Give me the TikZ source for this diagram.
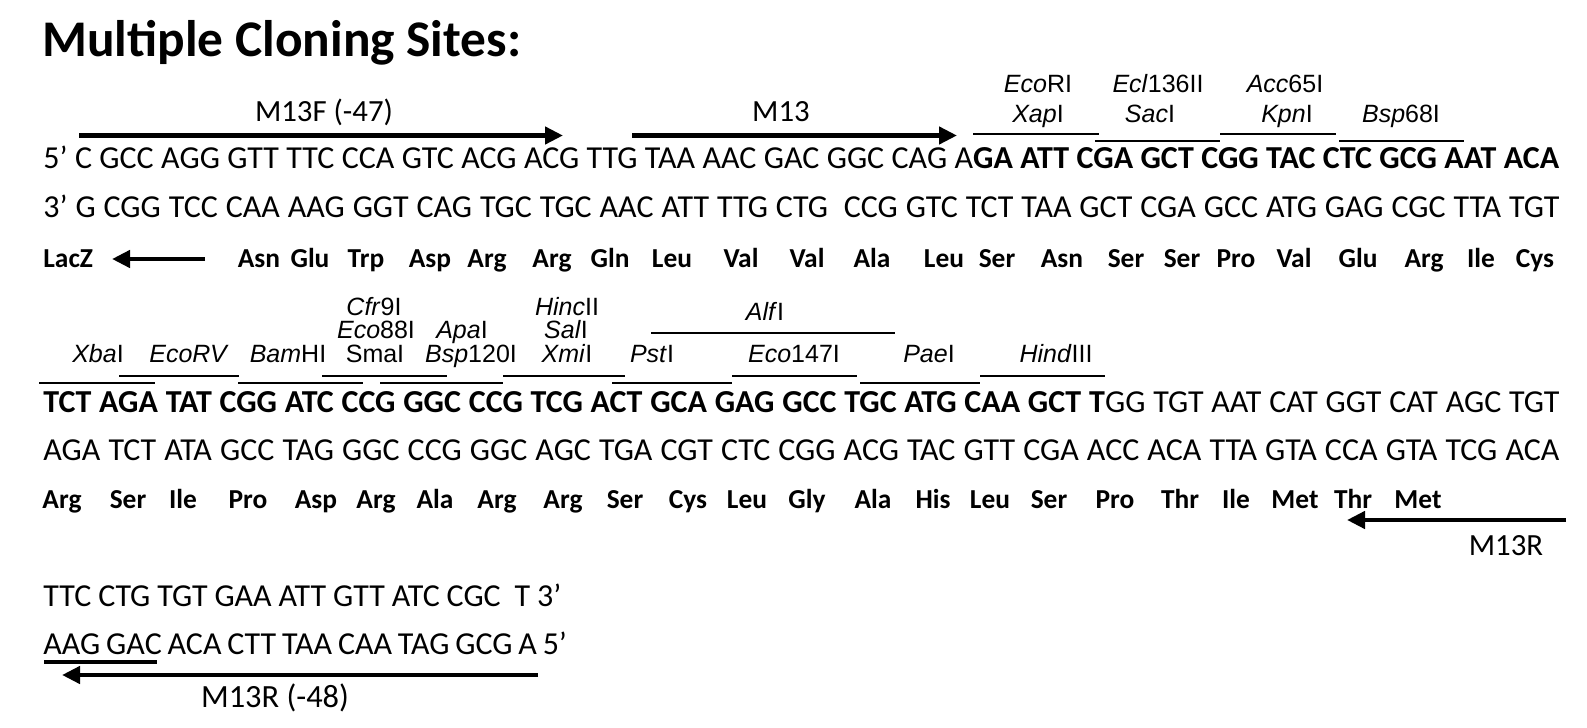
\documentclass[tikz,border=0pt]{standalone}
\usepackage{fontspec}
\setmainfont{Carlito}
\newfontfamily\arialf{Liberation Sans}
\usetikzlibrary{arrows.meta}
\begin{document}
\begin{tikzpicture}[x=0.5pt,y=-0.5pt,
  seq/.style={inner sep=0pt, anchor=base west, font=\fontsize{16}{19}\selectfont},
  aa/.style={inner sep=0pt, anchor=base, font=\fontsize{13.7}{16}\selectfont\bfseries},
  enz/.style={inner sep=0pt, anchor=base, font=\arialf\fontsize{12.5}{14}\selectfont},
  prim/.style={inner sep=0pt, anchor=base, font=\fontsize{15.4}{18}\selectfont},
  site/.style={line width=0.8pt},
  primer/.style={line width=2.2pt, -{Triangle[length=9pt,width=8.5pt]}},
]
\useasboundingbox (0,0) rectangle (1587,728);
\node[anchor=base west, inner sep=0pt, font=\fontsize{25.7}{30}\selectfont\bfseries] (title) at (42,56) {Multiple Cloning Sites:};

% ---- block 1 ----
\node[prim] (m13f) at (324,121) {M13F (-47)};
\node[prim] (m13) at (781,121) {M13};
\draw[primer] (79,135.5) -- (563,135.5);
\draw[primer] (632,135.5) -- (957,135.5);

\node[enz] (ecori) at (1038,92) {\textit{Eco}RI};
\node[enz] (xapi) at (1038,122) {\textit{Xap}I};
\node[enz] (ecl) at (1158,92) {\textit{Ecl}136II};
\node[enz] (saci) at (1150,122) {\textit{Sac}I};
\node[enz] (acc) at (1285,92) {\textit{Acc}65I};
\node[enz] (kpni) at (1287,122) {\textit{Kpn}I};
\node[enz] (bsp68) at (1401,122) {\textit{Bsp}68I};
\draw[site] (973,134) -- (1099,134);
\draw[site] (1095,141) -- (1220,141);
\draw[site] (1220,134) -- (1336,134);
\draw[site] (1339,141) -- (1464,141);

\node[seq] (r1) at (43,168) {\makebox[758pt][s]{5’ C GCC AGG GTT TTC CCA GTC ACG ACG TTG TAA AAC GAC GGC CAG A\textbf{GA ATT CGA GCT CGG TAC CTC GCG AAT ACA}}};
\node[seq] (r2) at (43,217) {\makebox[758pt][s]{3’ G CGG TCC CAA AAG GGT CAG TGC TGC AAC ATT TTG CTG\ \ CCG GTC TCT TAA GCT CGA GCC ATG GAG CGC TTA TGT}};

\node[aa, anchor=base west] (lacz) at (43,267) {LacZ};
\coordinate (laczend) at (112,259);
\draw[primer] (205,259) -- (laczend);
\foreach \n/\x in {Asn/259, Glu/310, Trp/366, Asp/430, Arg/487, Arg/552, Gln/610, Leu/672, Val/741, Val/807, Ala/872, Leu/944, Ser/997, Asn/1062, Ser/1126, Ser/1182, Pro/1236, Val/1294, Glu/1358, Arg/1424, Ile/1481, Cys/1535}
  \node[aa] (aa1-\x) at (\x,267) {\n};

% ---- block 2 ----
\node[enz] (xbai) at (98,362) {\textit{Xba}I};
\node[enz] (ecorv) at (189,362) {\textit{EcoRV}};
\node[enz] (bamhi) at (288,362) {\textit{Bam}HI};
\node[enz] (cfr) at (374,315) {\textit{Cfr}9I};
\node[enz] (eco88) at (376,338) {\textit{Eco}88I};
\node[enz] (smai) at (375,362) {SmaI};
\node[enz] (apai) at (462,338) {\textit{Apa}I};
\node[enz] (bsp120) at (471,362) {\textit{Bsp}120I};
\node[enz] (hincii) at (567,315) {\textit{Hinc}II};
\node[enz] (sali) at (566,338) {\textit{Sal}I};
\node[enz] (xmii) at (567,362) {\textit{Xmi}I};
\node[enz] (psti) at (652,362) {\textit{Pst}I};
\node[enz] (alfi) at (765,320) {\textit{Alf}I};
\node[enz] (eco147) at (794,362) {\textit{Eco}147I};
\node[enz] (paei) at (929,362) {\textit{Pae}I};
\node[enz] (hind) at (1056,362) {\textit{Hind}III};
\draw[site] (651,333) -- (895,333);
\draw[site] (39,383) -- (155,383);
\draw[site] (119,376) -- (239,376);
\draw[site] (238,383) -- (363,383);
\draw[site] (322,376) -- (447,376);
\draw[site] (380,383) -- (503,383);
\draw[site] (503,376) -- (625,376);
\draw[site] (612,383) -- (732,383);
\draw[site] (732,376) -- (857,376);
\draw[site] (860,383) -- (980,383);
\draw[site] (980,376) -- (1105,376);

\node[seq] (r5) at (43,412) {\makebox[758pt][s]{\textbf{TCT AGA TAT CGG ATC CCG GGC CCG TCG ACT GCA GAG GCC TGC ATG CAA GCT T}GG TGT AAT CAT GGT CAT AGC TGT}};
\node[seq] (r6) at (43,460) {\makebox[758pt][s]{AGA TCT ATA GCC TAG GGC CCG GGC AGC TGA CGT CTC CGG ACG TAC GTT CGA ACC ACA TTA GTA CCA GTA TCG ACA}};
\foreach \n/\x in {Arg/62, Ser/128, Ile/183, Pro/248, Asp/316, Arg/376, Ala/435, Arg/497, Arg/563, Ser/625, Cys/688, Leu/747, Gly/807, Ala/873, His/933, Leu/990, Ser/1049, Pro/1115, Thr/1180, Ile/1236, Met/1295, Thr/1353, Met/1418}
  \node[aa] (aa2-\x) at (\x,508) {\n};
\node[prim] (m13r) at (1506,555) {M13R};
\draw[primer] (1566,520) -- (1347,520);

% ---- block 3 ----
\node[seq] (r8) at (43,606) {\makebox[259pt][s]{TTC CTG TGT GAA ATT GTT ATC CGC\ \ T 3’}};
\node[seq] (r9) at (43,654) {\makebox[261.75pt][s]{AAG GAC ACA CTT TAA CAA TAG GCG A 5’}};
\draw[line width=1.8pt] (44,662) -- (157,662);
\draw[primer] (538,675) -- (62,675);
\node[prim, font=\fontsize{16.2}{18}\selectfont] (m13r48) at (275,707) {M13R (-48)};
\end{tikzpicture}
\end{document}
